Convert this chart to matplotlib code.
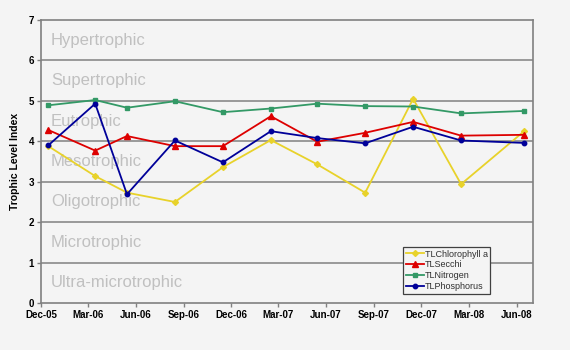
import datetime as dt
import matplotlib
matplotlib.use("Agg")
import matplotlib.pyplot as plt
import matplotlib.dates as mdates

plt.rcParams['font.family'] = ['Liberation Sans', 'DejaVu Sans']

# sampling dates
dates = [dt.date(2005, 12, 15), dt.date(2006, 3, 15), dt.date(2006, 5, 15),
         dt.date(2006, 8, 15), dt.date(2006, 11, 15), dt.date(2007, 2, 15),
         dt.date(2007, 5, 15), dt.date(2007, 8, 15), dt.date(2007, 11, 15),
         dt.date(2008, 2, 15), dt.date(2008, 6, 15)]

tl_chlorophyll = [3.88, 3.14, 2.73, 2.50, 3.36, 4.03, 3.43, 2.73, 5.05, 2.94, 4.25]
tl_secchi = [4.28, 3.77, 4.13, 3.88, 3.88, 4.62, 3.99, 4.21, 4.48, 4.14, 4.16]
tl_nitrogen = [4.89, 5.02, 4.83, 4.99, 4.72, 4.81, 4.93, 4.87, 4.86, 4.69, 4.75]
tl_phosphorus = [3.90, 4.93, 2.69, 4.02, 3.48, 4.25, 4.08, 3.95, 4.36, 4.02, 3.96]

zone_names = ['Ultra-microtrophic', 'Microtrophic', 'Oligotrophic', 'Mesotrophic',
              'Eutrophic', 'Supertrophic', 'Hypertrophic']

tick_dates = [dt.date(2005, 12, 1), dt.date(2006, 3, 1), dt.date(2006, 6, 1),
              dt.date(2006, 9, 1), dt.date(2006, 12, 1), dt.date(2007, 3, 1),
              dt.date(2007, 6, 1), dt.date(2007, 9, 1), dt.date(2007, 12, 1),
              dt.date(2008, 3, 1), dt.date(2008, 6, 1)]

bg = '#f4f4f4'
gridc = '#808080'

fig = plt.figure(figsize=(5.7, 3.5), dpi=100, facecolor=bg)
ax = fig.add_axes([0.0719, 0.134, 0.8632, 0.809])
ax.set_facecolor(bg)

# trophic zone labels
for i, name in enumerate(zone_names):
    ax.text(0.02, i + 0.5, name, transform=ax.get_yaxis_transform(),
            fontsize=12, color='#c0c0c0', va='center', ha='left', zorder=1)

for v in range(1, 7):
    ax.axhline(v, color=gridc, lw=1.1, zorder=1.5)

ax.plot(dates, tl_chlorophyll, color='#e8d22a', lw=1.3, marker='D', ms=3,
        label='TLChlorophyll a', zorder=3)
ax.plot(dates, tl_secchi, color='#dd0000', lw=1.3, marker='^', ms=4,
        label='TLSecchi', zorder=3)
ax.plot(dates, tl_nitrogen, color='#339966', lw=1.3, marker='s', ms=3.2,
        label='TLNitrogen', zorder=3)
ax.plot(dates, tl_phosphorus, color='#000099', lw=1.3, marker='o', ms=3.2,
        label='TLPhosphorus', zorder=3)

ax.set_ylim(0, 7)
ax.set_yticks(range(0, 8))
ax.set_xlim(dt.date(2005, 12, 1), dt.date(2008, 7, 2))
ax.set_xticks(tick_dates)
ax.xaxis.set_major_formatter(mdates.DateFormatter('%b-%y'))

for s in ax.spines.values():
    s.set_color(gridc)
    s.set_linewidth(1.2)

ax.tick_params(axis='both', length=3, width=1, color=gridc, labelsize=7, pad=2)
for lab in ax.get_xticklabels() + ax.get_yticklabels():
    lab.set_fontweight('bold')

ax.set_ylabel('Trophic Level Index', fontsize=7.5, fontweight='bold', labelpad=6)

leg = ax.legend(loc='lower left', bbox_to_anchor=(0.736, 0.033), fontsize=6.5,
                frameon=True, fancybox=False, edgecolor='#404040', facecolor=bg,
                framealpha=1, borderpad=0.3, labelspacing=0.2, handlelength=2.0,
                handletextpad=0.1, borderaxespad=0)
leg.get_frame().set_linewidth(0.9)
for t in leg.get_texts():
    t.set_color('#303030')

fig.savefig('out.png', dpi=100, facecolor=bg)
